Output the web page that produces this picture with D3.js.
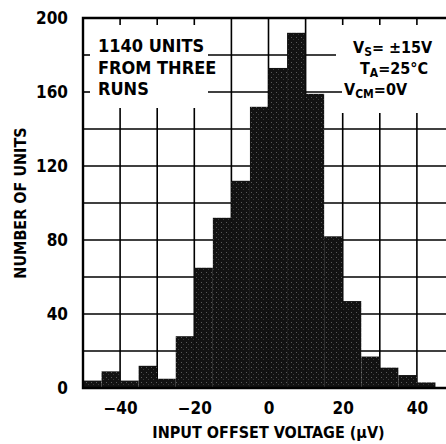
<!DOCTYPE html>
<html>
<head>
<meta charset="utf-8">
<script src="https://cdn.jsdelivr.net/npm/d3@7"></script>
<style>
  body { margin: 0; background: #fff; }
  svg { display: block; }
  text { font-family: "Liberation Sans Narrow", "DejaVu Sans Condensed", sans-serif; font-stretch: condensed; font-weight: bold; fill: #000; }
</style>
</head>
<body>
<svg id="chart" width="446" height="444"></svg>
<script>
// histogram bins (uV), 5 uV wide, and number of units in each
var binStarts = [-50, -45, -40, -35, -30, -25, -20, -15, -10, -5, 0, 5, 10, 15, 20, 25, 30, 35, 40];
var counts    = [4, 9, 4, 12, 5, 28, 65, 92, 112, 152, 173, 192, 159, 82, 47, 17, 11, 7, 3];
var binWidth = 5;

var xTicks = [-40, -20, 0, 20, 40];
var yTicks = [0, 40, 80, 120, 160, 200];
var xGrid = [-40, -30, -20, -10, 0, 10, 20, 30, 40];
var yGrid = [20, 40, 60, 80, 100, 120, 140, 160, 180];

var noteLeft = ["1140 UNITS", "FROM THREE", "RUNS"];

(function() {
  var svg = d3.select("#chart");

  // plot box (right side runs off the picture like the original)
  var pl = 83, pt = 18, pb = 388, pr = 454;

  var x = d3.scaleLinear().domain([-50, 50]).range([pl, pr]);
  var y = d3.scaleLinear().domain([0, 200]).range([pb, pt]);

  // dark stipple for the bars
  var pat = svg.append("defs").append("pattern")
      .attr("id", "stip")
      .attr("width", 5).attr("height", 5)
      .attr("patternUnits", "userSpaceOnUse");
  pat.append("rect").attr("width", 5).attr("height", 5).attr("fill", "#121212");
  pat.append("rect").attr("x", 1).attr("y", 2).attr("width", 1).attr("height", 1).attr("fill", "#5a5a5a");
  pat.append("rect").attr("x", 3).attr("y", 4).attr("width", 1).attr("height", 1).attr("fill", "#3a3a3a");

  var grid = svg.append("g").attr("stroke", "#000").attr("stroke-width", 1.6);

  // horizontal grid, broken where the notes sit
  yGrid.forEach(function(v) {
    var segs = [[pl, pr]];
    if (v == 180) segs = [[pl, pl + 7], [208, 336]];
    if (v == 160) segs = [[pl, pl + 7], [208, 342]];
    segs.forEach(function(s) {
      grid.append("line")
        .attr("x1", s[0]).attr("x2", s[1])
        .attr("y1", y(v)).attr("y2", y(v));
    });
  });

  // vertical grid
  xGrid.forEach(function(v) {
    var segs = [[pt, pb]];
    if (v <= -20) segs = [[pt, pt + 7], [108, pb]];
    if (v >= 20) segs = [[pt, pt + 7], [113, pb]];
    segs.forEach(function(s) {
      grid.append("line")
        .attr("x1", x(v)).attr("x2", x(v))
        .attr("y1", s[0]).attr("y2", s[1]);
    });
  });

  // bars
  svg.append("g").selectAll("rect")
    .data(binStarts)
    .enter().append("rect")
      .attr("x", function(d) { return x(d); })
      .attr("width", function(d) { return x(d + binWidth) - x(d); })
      .attr("y", function(d, i) { return y(counts[i]); })
      .attr("height", function(d, i) { return y(0) - y(counts[i]); })
      .attr("fill", "url(#stip)");

  // frame
  svg.append("path")
    .attr("d", "M" + pr + "," + pt + "H" + pl + "V" + pb + "H" + pr)
    .attr("fill", "none")
    .attr("stroke", "#000")
    .attr("stroke-width", 2.4);

  // y axis labels
  svg.append("g")
      .attr("transform", "translate(" + pl + ",0)")
      .call(d3.axisLeft(y).tickValues(yTicks).tickSize(0).tickPadding(15))
      .call(function(g) { g.select(".domain").remove(); })
      .selectAll("text")
        .attr("font-family", null)
        .style("font-size", "17px");

  // x axis labels
  svg.append("g")
      .attr("transform", "translate(0," + pb + ")")
      .call(d3.axisBottom(x).tickValues(xTicks).tickSize(0).tickPadding(14)
        .tickFormat(function(d) { return d < 0 ? "\u2212" + Math.abs(d) : d; }))
      .call(function(g) { g.select(".domain").remove(); })
      .selectAll("text")
        .attr("font-family", null)
        .style("font-size", "17px");

  // axis titles
  svg.append("text")
    .attr("x", x(0))
    .attr("y", 438)
    .attr("text-anchor", "middle")
    .style("font-size", "16px")
    .text("INPUT OFFSET VOLTAGE (\u03bcV)");

  svg.append("text")
    .attr("transform", "translate(26," + (pt + pb) / 2 + ") rotate(-90)")
    .attr("text-anchor", "middle")
    .style("font-size", "16px")
    .text("NUMBER OF UNITS");

  // notes
  svg.append("g").selectAll("text")
    .data(noteLeft)
    .enter().append("text")
      .attr("x", 98)
      .attr("y", function(d, i) { return 52 + i * 21.5; })
      .style("font-size", "18px")
      .text(function(d) { return d; });

  function cond(xp, yp, main, sub, rest) {
    var t = svg.append("text").attr("x", xp).attr("y", yp).style("font-size", "16px");
    t.append("tspan").text(main);
    t.append("tspan").attr("dy", 3).style("font-size", "12px").text(sub);
    t.append("tspan").attr("dy", -3).text(rest);
  }
  cond(353, 53, "V", "S", "= \u00b115V");
  cond(360, 74, "T", "A", "=25\u00b0C");
  cond(344, 95, "V", "CM", "=0V");
})();
</script>
</body>
</html>
